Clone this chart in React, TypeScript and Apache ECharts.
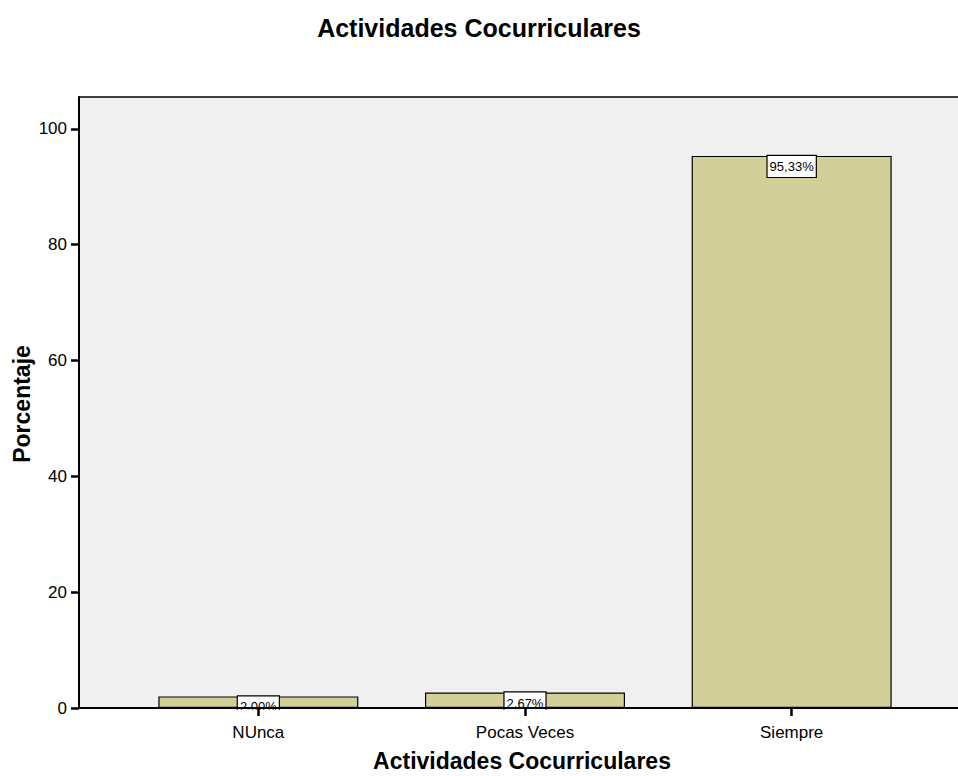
import React, { useEffect, useRef } from "react";
import * as echarts from "echarts";

const categories = ["NUnca", "Pocas Veces", "Siempre"];
const values = [2.0, 2.67, 95.33];
const valueLabels = ["2,00%", "2,67%", "95,33%"];
const FONT = "'Liberation Sans', Arial, sans-serif";

export default function App() {
  const ref = useRef<HTMLDivElement>(null);
  useEffect(() => {
    if (!ref.current) return;
    const chart = echarts.init(ref.current, null, { renderer: "svg" });
    chart.setOption({
      animation: false,
      grid: [
        { left: 79, top: 97, right: -30, bottom: 68 },
        { left: 125, width: 800, top: 97, bottom: 68 },
      ],
      xAxis: [
        {
          gridIndex: 0, type: "value", min: 0, max: 1, z: 20,
          axisLine: { show: true, lineStyle: { color: "#000", width: 2 } },
          axisTick: { show: false }, axisLabel: { show: false }, splitLine: { show: false },
        },
        {
          gridIndex: 1, type: "category", data: categories, z: 20,
          axisLine: { show: true, lineStyle: { color: "rgba(0,0,0,0)" } },
          axisTick: { show: true, alignWithLabel: true, length: 8, lineStyle: { color: "#000", width: 2.5 } },
          axisLabel: { color: "#000", fontSize: 17, margin: 16, fontFamily: FONT },
        },
        {
          gridIndex: 0, type: "value", min: 0, max: 1, position: "top",
          axisLine: { show: true, lineStyle: { color: "#000", width: 1.5 } },
          axisTick: { show: false }, axisLabel: { show: false }, splitLine: { show: false },
        },
      ],
      yAxis: [
        {
          gridIndex: 0, type: "value", min: 0, max: 105.5, interval: 20,
          axisLine: { show: true, lineStyle: { color: "#000", width: 2 } },
          axisTick: { show: true, length: 8, lineStyle: { color: "#000", width: 2.5 } },
          axisLabel: { color: "#000", fontSize: 17, margin: 12, fontFamily: FONT, showMaxLabel: false },
          splitLine: { show: false },
          splitArea: { show: true, areaStyle: { color: ["#f0f0f0"] } },
        },
        { gridIndex: 1, type: "value", min: 0, max: 105.5, show: false },
      ],
      series: [
        {
          type: "bar", xAxisIndex: 1, yAxisIndex: 1, data: values, barWidth: 200,
          itemStyle: { color: "#d3cf99", borderColor: "#000", borderWidth: 1.2 },
          label: {
            show: true, position: "insideTop", distance: 0,
            formatter: (p: any) => valueLabels[p.dataIndex],
            backgroundColor: "#fff", borderColor: "#000", borderWidth: 1.2,
            padding: [4, 2, 4, 2], fontSize: 13, color: "#000", fontFamily: FONT,
          },
        },
      ],
      graphic: [
        { type: "rect", z: 10, shape: { x: 80, y: 709.8, width: 900, height: 14 }, style: { fill: "#fff" } },
        {
          type: "text", x: 479, y: 28,
          style: { text: "Actividades Cocurriculares", font: `bold 25px ${FONT}`, fill: "#000", textAlign: "center", textVerticalAlign: "middle" },
        },
        {
          type: "text", x: 522, y: 761,
          style: { text: "Actividades Cocurriculares", font: `bold 23px ${FONT}`, fill: "#000", textAlign: "center", textVerticalAlign: "middle" },
        },
        {
          type: "text", x: 22, y: 404, rotation: Math.PI / 2,
          style: { text: "Porcentaje", font: `bold 23px ${FONT}`, fill: "#000", textAlign: "center", textVerticalAlign: "middle" },
        },
      ],
    });
    return () => chart.dispose();
  }, []);
  return <div ref={ref} style={{ position: "fixed", left: 0, top: 0, width: 958, height: 776, background: "#fff" }} />;
}
